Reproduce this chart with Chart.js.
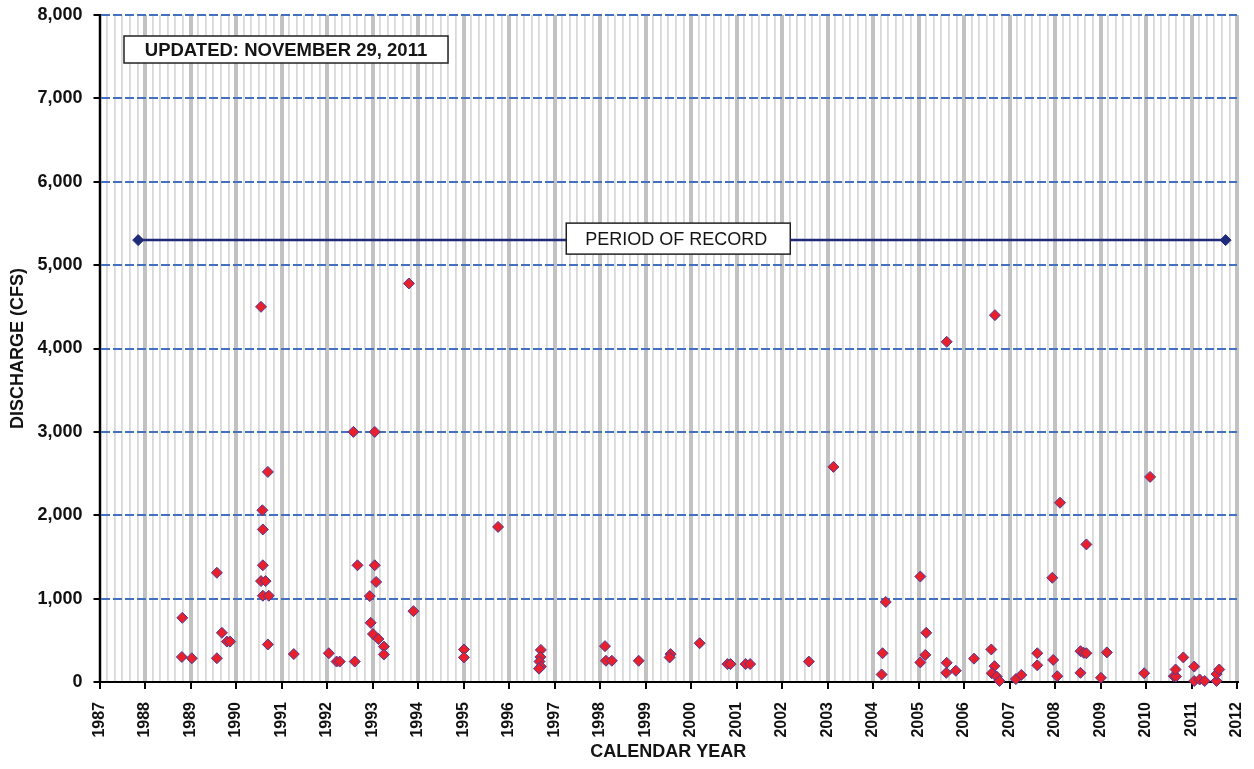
<!DOCTYPE html>
<html>
<head>
<meta charset="utf-8">
<script src="https://cdn.jsdelivr.net/npm/chart.js@4.4.1/dist/chart.umd.min.js"></script>
<style>
  html, body { margin: 0; padding: 0; background: #ffffff; }
  #wrap { width: 1254px; height: 769px; }
</style>
</head>
<body>
<div id="wrap"><canvas id="c" width="1254" height="769"></canvas></div>
<script>
// ---- DATA ----
const sampleYears = [
  1988.82, 1988.81, 1989.03, 1989.58, 1989.58, 1989.69, 1989.80, 1989.87,
  1990.55, 1990.58, 1990.59, 1990.59, 1990.55, 1990.65, 1990.59, 1990.72, 1990.70, 1990.70,
  1991.27, 1992.04, 1992.21, 1992.28, 1992.61, 1992.58, 1992.67, 1992.94, 1992.96,
  1993.01, 1993.05, 1993.05, 1993.08, 1993.13, 1993.25, 1993.25, 1993.80, 1993.90,
  1995.01, 1995.01, 1995.76, 1996.70, 1996.69, 1996.67, 1996.70, 1996.66,
  1998.11, 1998.13, 1998.26, 1998.85, 1999.55, 1999.53, 2000.19, 2000.80, 2000.87,
  2001.20, 2001.30, 2002.59, 2003.13, 2004.19, 2004.21, 2004.28,
  2005.04, 2005.04, 2005.15, 2005.17, 2005.62, 2005.62, 2005.61, 2005.82, 2006.22,
  2006.60, 2006.68, 2006.67, 2006.61, 2006.72, 2006.78, 2007.14, 2007.26,
  2007.61, 2007.61, 2007.94, 2007.96, 2008.05, 2008.11, 2008.56, 2008.63, 2008.69,
  2008.56, 2008.69, 2009.01, 2009.14, 2009.96, 2010.09, 2010.61, 2010.66, 2010.65,
  2010.82, 2011.06, 2011.06, 2011.18, 2011.29, 2011.55, 2011.55, 2011.61
];
const dischargeCfs = [
  770, 300, 285, 1310, 285, 590, 485, 485,
  4500, 2060, 1830, 1400, 1210, 1210, 1035, 1035, 2520, 450,
  335, 345, 245, 245, 245, 3000, 1400, 1030, 710,
  575, 3000, 1400, 1200, 515, 425, 330, 4780, 850,
  390, 295, 1860, 385, 300, 245, 185, 160,
  430, 255, 255, 255, 335, 295, 465, 215, 215,
  215, 215, 245, 2580, 90, 345, 960,
  235, 1265, 325, 590, 4080, 230, 110, 135, 280,
  390, 4400, 190, 105, 65, 12, 35, 85,
  345, 200, 1250, 265, 70, 2150, 370, 350, 345,
  110, 1650, 50, 355, 105, 2460, 70, 65, 150,
  295, 185, 12, 30, 12, 12, 95, 150
];
const recordYears = [1987.85, 2011.75];
const recordLevel = [5300, 5300];
const yearTicks = [1987, 1988, 1989, 1990, 1991, 1992, 1993, 1994, 1995, 1996, 1997, 1998, 1999,
                   2000, 2001, 2002, 2003, 2004, 2005, 2006, 2007, 2008, 2009, 2010, 2011, 2012];
const dischargeTicks = [0, 1000, 2000, 3000, 4000, 5000, 6000, 7000, 8000];
const updatedText = 'UPDATED: NOVEMBER 29, 2011';
const recordText = 'PERIOD OF RECORD';

// ---- CHART ----
const FONT = '"Liberation Sans", Arial, Helvetica, sans-serif';
const isYear = v => Math.abs(v - Math.round(v)) < 1e-6;

const points = sampleYears.map((x, i) => ({ x: x, y: dischargeCfs[i] }));
const recordPoints = recordYears.map((x, i) => ({ x: x, y: recordLevel[i] }));

const annotate = {
  id: 'annotate',
  afterDatasetsDraw(chart) {
    const { ctx, chartArea, scales } = chart;
    ctx.save();
    // Updated box
    const bx = chartArea.left + 24.5, by = chartArea.top + 21, bw = 324, bh = 27;
    ctx.fillStyle = '#ffffff';
    ctx.fillRect(bx, by, bw, bh);
    ctx.lineWidth = 1.5;
    ctx.strokeStyle = '#222222';
    ctx.strokeRect(bx, by, bw, bh);
    ctx.fillStyle = '#141414';
    ctx.font = 'bold 18.5px ' + FONT;
    ctx.textAlign = 'center';
    ctx.textBaseline = 'middle';
    ctx.fillText(updatedText, bx + bw / 2, by + bh / 2 + 1);
    // Period of record box
    const cx = scales.x.getPixelForValue(1999.72);
    const cy = scales.y.getPixelForValue(recordLevel[0]) - 1.5;
    const pw = 224, ph = 31;
    ctx.fillStyle = '#ffffff';
    ctx.fillRect(cx - pw / 2, cy - ph / 2, pw, ph);
    ctx.strokeRect(cx - pw / 2, cy - ph / 2, pw, ph);
    ctx.fillStyle = '#141414';
    ctx.font = '18px ' + FONT;
    ctx.fillText(recordText, cx - 2, cy + 1);
    ctx.restore();
  }
};

new Chart(document.getElementById('c'), {
  type: 'scatter',
  data: {
    datasets: [
      {
        type: 'line',
        label: 'Period of record',
        data: recordPoints,
        borderColor: '#1f2a78',
        backgroundColor: '#1f2a78',
        borderWidth: 2.5,
        pointStyle: 'rectRot',
        pointRadius: 5.5,
        pointBorderWidth: 1,
        pointBackgroundColor: '#1f2a78',
        pointBorderColor: '#1f2a78',
        fill: false,
        clip: false
      },
      {
        label: 'Discharge',
        data: points,
        pointStyle: 'rectRot',
        pointRadius: 5.5,
        pointBackgroundColor: '#e8202c',
        pointBorderColor: '#4a3a98',
        pointBorderWidth: 1,
        clip: false
      }
    ]
  },
  options: {
    responsive: false,
    animation: false,
    devicePixelRatio: 1,
    layout: { padding: { left: 0, right: 17, top: 15, bottom: 0 } },
    plugins: { legend: { display: false }, tooltip: { enabled: false } },
    scales: {
      x: {
        type: 'linear',
        position: 'bottom',
        min: yearTicks[0],
        max: yearTicks[yearTicks.length - 1],
        afterBuildTicks: (scale) => {
          const t = [];
          for (let i = 0; i < yearTicks.length - 1; i++) {
            for (let m = 0; m < 6; m++) t.push({ value: yearTicks[i] + m / 6 });
          }
          t.push({ value: yearTicks[yearTicks.length - 1] });
          scale.ticks = t;
        },
        afterFit: (scale) => {
          scale.height = 87;
          scale.paddingLeft = 0; scale.paddingRight = 0;
          scale.paddingTop = 0; scale.paddingBottom = 0;
        },
        ticks: {
          autoSkip: false,
          maxRotation: 90,
          minRotation: 90,
          padding: 13,
          color: '#111111',
          font: { family: FONT, size: 16, weight: 'bold' },
          callback: (v) => isYear(v) ? String(Math.round(v)) : ''
        },
        grid: {
          color: (c) => (c.tick && isYear(c.tick.value)) ? '#c2c2c2' : '#d9d9d9',
          lineWidth: (c) => (c.tick && isYear(c.tick.value)) ? 4 : 1.8,
          tickColor: (c) => (c.tick && isYear(c.tick.value)) ? '#000000' : 'rgba(0,0,0,0)',
          tickWidth: 2,
          tickLength: 7,
          tickBorderDash: []
        },
        border: { color: '#000000', width: 2 },
        title: {
          display: true,
          text: 'CALENDAR YEAR',
          color: '#141414',
          font: { family: FONT, size: 18, weight: 'bold' },
          padding: { top: 0, bottom: 6 }
        }
      },
      y: {
        type: 'linear',
        min: dischargeTicks[0],
        max: dischargeTicks[dischargeTicks.length - 1],
        afterBuildTicks: (scale) => { scale.ticks = dischargeTicks.map(v => ({ value: v })); },
        afterFit: (scale) => {
          scale.width = 99.5;
          scale.paddingLeft = 0; scale.paddingRight = 0;
          scale.paddingTop = 0; scale.paddingBottom = 0;
        },
        ticks: {
          padding: 11,
          color: '#111111',
          font: { family: FONT, size: 18, weight: 'bold' },
          callback: (v) => Number(v).toLocaleString('en-US')
        },
        grid: {
          color: (c) => (c.tick && c.tick.value === 0) ? 'rgba(0,0,0,0)' : '#4470c0',
          lineWidth: 2,
          tickColor: '#000000',
          tickWidth: 2,
          tickLength: 6,
          tickBorderDash: []
        },
        border: { color: '#000000', width: 2, dash: [9, 3] },
        title: {
          display: true,
          text: 'DISCHARGE (CFS)',
          color: '#141414',
          font: { family: FONT, size: 18, weight: 'bold' },
          padding: { top: 7, bottom: 0 }
        }
      }
    }
  },
  plugins: [annotate]
});
</script>
</body>
</html>
